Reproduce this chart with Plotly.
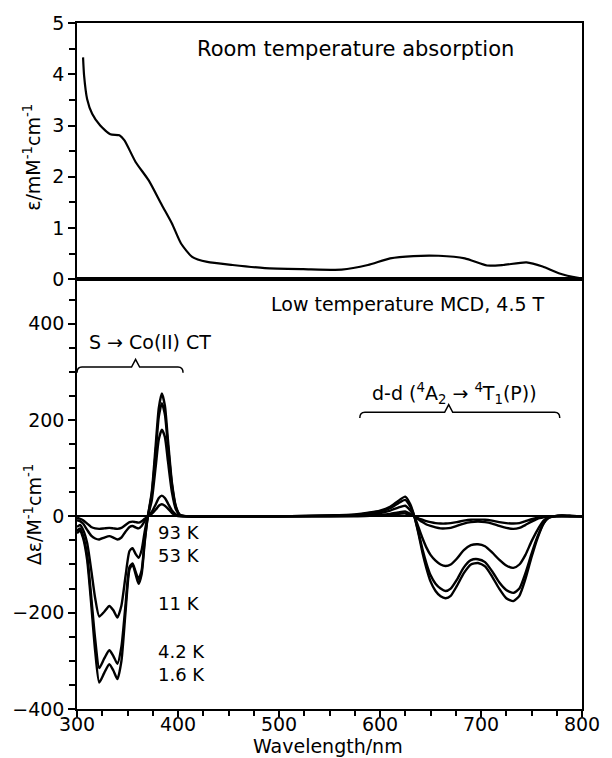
import plotly.graph_objects as go

# ---------------- data ----------------
abs_wl = [306, 307, 310, 315, 323, 333, 342, 347, 358, 371, 384, 394, 403, 414, 429,
          454, 486, 524, 562, 588, 610, 633, 658, 684, 706, 722, 745, 761, 777, 796, 800]
abs_eps = [4.33, 3.98, 3.52, 3.23, 3.00, 2.83, 2.81, 2.71, 2.29, 1.93, 1.45, 1.09, 0.70, 0.44, 0.34,
           0.28, 0.22, 0.20, 0.19, 0.28, 0.41, 0.455, 0.46, 0.41, 0.27, 0.28, 0.33, 0.25, 0.12, 0.03, 0.02]

mcd_wl = [300, 303, 306, 310, 314, 318, 322, 327, 332, 336, 340, 344, 348, 352, 355, 358, 361, 364,
          367, 370, 374, 378, 381, 384, 387, 390, 394, 398, 402, 410, 450, 500, 550, 575, 590, 600,
          610, 618, 625, 630, 634, 638, 642, 646, 650, 655, 660, 665, 670, 676, 683, 690, 697, 704,
          711, 718, 725, 732, 738, 744, 750, 756, 762, 767, 772, 780, 790, 800]

mcd_1p6K = [-35, -30, -45, -90, -180, -280, -345, -325, -307, -320, -338, -300, -200, -110, -100, -120, -140, -120,
            -55, -2, 50, 150, 225, 255, 230, 160, 70, 20, 3, 0, 0, 0, 2, 4, 8, 12,
            20, 32, 41, 25, 0, -35, -75, -108, -135, -155, -166, -170, -165, -145, -118, -100, -97, -104,
            -125, -150, -170, -176, -165, -130, -85, -45, -15, -3, 0, 2, 1, 0]
mcd_4p2K = [-30, -25, -40, -80, -165, -255, -315, -295, -278, -290, -306, -270, -185, -105, -98, -115, -130, -112,
            -50, -2, 45, 135, 207, 235, 212, 148, 65, 18, 3, 0, 0, 0, 2, 3, 7, 10,
            17, 27, 34, 20, 0, -32, -68, -98, -122, -140, -150, -155, -150, -132, -106, -91, -89, -95,
            -114, -137, -153, -159, -150, -118, -78, -42, -14, -3, 0, 2, 1, 0]
mcd_11K = [-22, -18, -28, -55, -110, -170, -208, -198, -186, -195, -210, -185, -125, -72, -66, -78, -86, -70,
           -32, -1, 33, 105, 160, 180, 165, 115, 50, 14, 2, 0, 0, 0, 1, 2, 5, 7,
           12, 18, 22, 12, 0, -22, -45, -65, -80, -92, -100, -103, -100, -88, -70, -60, -58, -62,
           -75, -90, -102, -107, -100, -80, -52, -28, -9, -2, 0, 1, 0, 0]
mcd_53K = [-8, -10, -15, -28, -40, -46, -48, -44, -41, -44, -48, -44, -32, -22, -20, -23, -25, -20,
           -10, 0, 9, 25, 38, 43, 38, 27, 12, 4, 1, 0, 0, 0, 0, 1, 2, 3,
           5, 8, 10, 5, 0, -6, -12, -17, -20, -23, -25, -25, -24, -20, -15, -12, -11, -12,
           -15, -20, -24, -26, -24, -18, -11, -5, -2, 0, 0, 0, 0, 0]
mcd_93K = [-3, -5, -8, -15, -22, -25, -26, -25, -24, -25, -26, -24, -18, -12, -11, -12, -13, -10,
           -5, 0, 5, 14, 22, 25, 22, 16, 7, 2, 0, 0, 0, 0, 0, 0, 1, 2,
           3, 5, 6, 3, 0, -4, -7, -10, -12, -14, -15, -15, -14, -12, -9, -7, -7, -7,
           -9, -12, -14, -15, -14, -10, -6, -3, -1, 0, 0, 0, 0, 0]

mcd_series = [("1.6 K", mcd_1p6K), ("4.2 K", mcd_4p2K), ("11 K", mcd_11K),
              ("53 K", mcd_53K), ("93 K", mcd_93K)]

temp_labels = ["93 K", "53 K", "11 K", "4.2 K", "1.6 K"]

y1_ticks = [0, 1, 2, 3, 4, 5]
y2_ticks = [-400, -200, 0, 200, 400]
x_ticks = [300, 400, 500, 600, 700, 800]

# ---------------- figure ----------------
FONT = "DejaVu Sans"
W, H = 612, 758
ML, MR, MT, MB = 72, 19, 20, 49
PW, PH = W - ML - MR, H - MT - MB

fig = go.Figure()

fig.add_trace(go.Scatter(x=abs_wl, y=abs_eps, mode="lines",
                         line=dict(color="black", width=2.2, shape="spline", smoothing=0.6),
                         xaxis="x", yaxis="y", showlegend=False))
for name, vals in mcd_series:
    fig.add_trace(go.Scatter(x=mcd_wl, y=vals, mode="lines", name=name,
                             line=dict(color="black", width=2.4, shape="spline", smoothing=0.6),
                             xaxis="x2", yaxis="y2", showlegend=False))

split = 0.6263
axis_common = dict(showline=True, linecolor="black", linewidth=1.5, mirror=True, showgrid=False,
                   tickfont=dict(family=FONT, size=19, color="black"), tickcolor="black")

fig.update_layout(
    width=W, height=H,
    margin=dict(l=ML, r=MR, t=MT, b=MB),
    paper_bgcolor="white", plot_bgcolor="white",
    font=dict(family=FONT, color="black"),
    xaxis=dict(domain=[0, 1], anchor="y", range=[300, 800], showticklabels=False, ticks="",
               **{k: v for k, v in axis_common.items() if k != "tickfont"}),
    yaxis=dict(domain=[split, 1], anchor="x", range=[0, 5], tickvals=y1_ticks, ticks="outside",
               ticklen=7, tickwidth=1.5, zeroline=False,
               minor=dict(dtick=0.5, ticks="outside", ticklen=6, tickwidth=1.5, tickcolor="black"),
               **axis_common),
    xaxis2=dict(domain=[0, 1], anchor="y2", range=[300, 800], tickvals=x_ticks, ticks="outside",
                ticklen=6, tickwidth=1.5, ticklabelstandoff=-9,
                minor=dict(dtick=25, ticks="outside", ticklen=5, tickwidth=1.5, tickcolor="black"),
                **axis_common),
    yaxis2=dict(domain=[0, split], anchor="x2", range=[-400, 492], tickvals=y2_ticks, ticks="outside",
                ticklen=7, tickwidth=1.5, zeroline=True, zerolinecolor="black", zerolinewidth=2,
                minor=dict(dtick=50, ticks="outside", ticklen=6, tickwidth=1.5, tickcolor="black"),
                **axis_common),
)


def px_to_paper(px, py):
    return (px - ML) / PW, (H - py - MB) / PH


ann_font = dict(family=FONT, size=19, color="black")
annotations = [
    dict(text="Room temperature absorption", x=576, y=4.49, xref="x", yref="y", showarrow=False,
         font=dict(family=FONT, size=21, color="black")),
    dict(text="Low temperature MCD, 4.5 T", x=628, y=440, xref="x2", yref="y2", showarrow=False, font=ann_font),
    dict(text="S → Co(II) CT", x=372, y=362, xref="x2", yref="y2", showarrow=False, font=ann_font),
    dict(text="d-d (<sup>4</sup>A<sub>2</sub> → <sup>4</sup>T<sub>1</sub>(P))", x=674, y=254, xref="x2", yref="y2",
         showarrow=False, font=ann_font),
]

ax_font = dict(family=FONT, size=19, color="black")
for txt, (px, py), ang in [("ε/mM<sup>-1</sup>cm<sup>-1</sup>", (26, 155), -90),
                           ("Δε/M<sup>-1</sup>cm<sup>-1</sup>", (26, 513), -90),
                           ("Wavelength/nm", (331, 746), 0)]:
    xp, yp = px_to_paper(px, py)
    annotations.append(dict(text=txt, x=xp, y=yp, xref="paper", yref="paper", xanchor="center",
                            yanchor="middle", showarrow=False, textangle=ang, font=ax_font))

temp_y = [-33, -81, -180, -281, -329]
for lbl, yy in zip(temp_labels, temp_y):
    annotations.append(dict(text=lbl, x=378, y=yy, xref="x2", yref="y2", xanchor="left",
                            showarrow=False, font=dict(family=FONT, size=18, color="black")))
fig.update_layout(annotations=annotations)


def brace(x0, x1, xm, ylev, ypeak, yend, c=5):
    return (f"M {x0},{yend} Q {x0},{ylev} {x0 + c},{ylev} L {xm - 4},{ylev} L {xm},{ypeak} "
            f"L {xm + 4},{ylev} L {x1 - c},{ylev} Q {x1},{ylev} {x1},{yend}")


for (x0, x1, xm, ylev, ypeak) in [(300, 405, 358, 310, 326), (580, 778, 668, 216, 232)]:
    fig.add_shape(type="path", path=brace(x0, x1, xm, ylev, ypeak, ylev - 12), xref="x2", yref="y2",
                  line=dict(color="black", width=1.5))

fig.write_html("out.html", config={"displayModeBar": False},
               post_script="document.body.style.margin='0';")
